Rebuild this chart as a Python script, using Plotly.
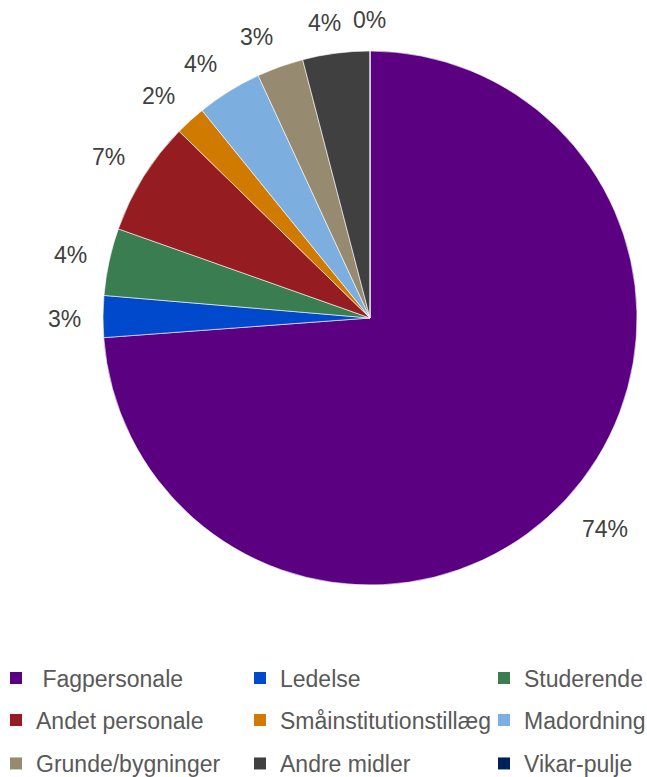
import math
import plotly.graph_objects as go

labels = ["Fagpersonale", "Ledelse", "Studerende", "Andet personale",
          "Småinstitutionstillæg", "Madordning", "Grunde/bygninger",
          "Andre midler", "Vikar-pulje"]
values = [73.85, 2.52, 4.07, 6.91, 1.85, 3.95, 2.82, 4.06, 0.0]
colors = ["#5A0080", "#0048CC", "#3A7D50", "#951D22", "#D07B00",
          "#7CAFDF", "#968B70", "#404040", "#00205B"]

W, H = 647, 777
cx, cy, r = 370, 318, 267
FONT = "Liberation Sans, Arial, sans-serif"
LABEL_SIZE = 23

fig = go.Figure()
fig.add_trace(go.Pie(
    labels=labels, values=values, sort=False, direction="clockwise",
    rotation=0, textinfo="none", showlegend=False,
    marker=dict(colors=colors, line=dict(color="white", width=0.6)),
    hoverinfo="label+percent",
    domain=dict(x=[(cx - r) / W, (cx + r) / W],
                y=[(H - cy - r) / H, (H - cy + r) / H]),
))

# percentage labels placed just outside each slice (derived from the values):
# the label box's nearest corner sits a fixed gap beyond the rim on the mid-angle
total = sum(values)
cum = 0.0
for lab, v in zip(labels, values):
    mid = (cum + v / 2) / total * 2 * math.pi
    cum += v
    txt = f"{round(v / total * 100)}%"
    ndig = len(txt) - 1
    hw = LABEL_SIZE * (0.556 * ndig + 0.889) / 2
    hh = 11.5
    s, c = math.sin(mid), math.cos(mid)
    d = r + 22
    fx = math.copysign(min(1.0, abs(s) / 0.25), s)
    fy = math.copysign(min(1.0, abs(c) / 0.5), c)
    px = cx + d * s + hw * fx
    py = cy - d * c - hh * fy + 3
    fig.add_annotation(x=px / W, y=(H - py) / H, xref="paper", yref="paper",
                       text=txt, showarrow=False, xanchor="center", yanchor="middle",
                       font=dict(family=FONT, size=LABEL_SIZE, color="#404040"))

# legend entries: 3 rows x 3 columns, one small legend per entry
col_x = [12, 256, 500]       # left edge of legend square in each column (px)
row_y = [678, 720, 763.5]    # vertical centre of each legend row (px)
layout_legends = {}
for i, (lab, col) in enumerate(zip(labels, colors)):
    key = "legend" if i == 0 else f"legend{i + 1}"
    name = "\u00a0" + lab if lab == "Fagpersonale" else lab
    fig.add_trace(go.Scatter(x=[None], y=[None], mode="markers", name=name,
                             marker=dict(symbol="square", size=12, color=col),
                             legend=key, showlegend=True, hoverinfo="skip"))
    rr, cc = divmod(i, 3)
    layout_legends[key] = dict(
        x=(col_x[cc] - 16) / W, xanchor="left",
        y=(H - row_y[rr]) / H, yanchor="middle",
        bgcolor="rgba(0,0,0,0)",
        font=dict(family=FONT, size=23, color="#595959"))

fig.update_layout(
    width=W, height=H, margin=dict(l=0, r=0, t=0, b=0, autoexpand=False),
    paper_bgcolor="white", plot_bgcolor="white",
    xaxis=dict(visible=False), yaxis=dict(visible=False),
    **layout_legends,
)
fig.write_html("out.html", config={"displayModeBar": False},
               post_script="document.body.style.margin='0';"
                           "document.body.style.overflow='hidden';")
